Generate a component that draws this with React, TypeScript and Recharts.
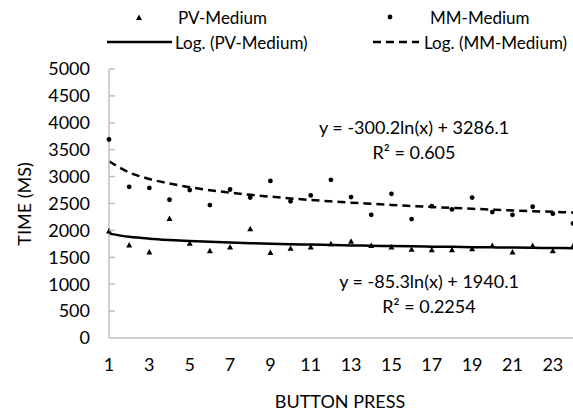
import {
  ComposedChart,
  Line,
  Scatter,
  XAxis,
  YAxis,
} from 'recharts'

const presses = [1, 2, 3, 4, 5, 6, 7, 8, 9, 10, 11, 12, 13, 14, 15, 16, 17, 18, 19, 20, 21, 22, 23, 24]
const pvMedium = [1990, 1730, 1600, 2220, 1760, 1620, 1690, 2030, 1590, 1670, 1690, 1750, 1800, 1720, 1690, 1650, 1640, 1640, 1660, 1720, 1600, 1720, 1620, 1710]
const mmMedium = [3690, 2810, 2790, 2570, 2750, 2470, 2760, 2610, 2920, 2540, 2650, 2940, 2620, 2290, 2680, 2210, 2450, 2390, 2610, 2340, 2290, 2440, 2310, 2130]
// log trendlines as drawn in the chart
const pvTrend = [1940, 1881, 1846, 1822, 1803, 1787, 1774, 1763, 1753, 1744, 1736, 1728, 1721, 1715, 1709, 1704, 1698, 1694, 1689, 1685, 1680, 1676, 1673, 1669]
const mmTrend = [3286, 3078, 2956, 2870, 2803, 2748, 2702, 2662, 2627, 2595, 2566, 2540, 2516, 2494, 2473, 2454, 2436, 2418, 2402, 2387, 2372, 2358, 2345, 2332]
const xTicks = [1, 3, 5, 7, 9, 11, 13, 15, 17, 19, 21, 23]
const yTicks = [0, 500, 1000, 1500, 2000, 2500, 3000, 3500, 4000, 4500, 5000]

const data = presses.map((x, i) => ({
  x,
  pv: pvMedium[i],
  mm: mmMedium[i],
  pvTrend: pvTrend[i],
  mmTrend: mmTrend[i],
}))

const FONT = 'Lato, "Open Sans", sans-serif'
const FS = 18
const AXIS_GRAY = '#BFBFBF'

const Triangle = (props: any) => {
  const { cx, cy } = props
  if (cx == null || cy == null) return null
  return <polygon points={`${cx},${cy - 3} ${cx - 3},${cy + 2.5} ${cx + 3},${cy + 2.5}`} fill="#000" />
}

const Dot = (props: any) => {
  const { cx, cy } = props
  if (cx == null || cy == null) return null
  return <circle cx={cx} cy={cy} r={2.4} fill="#000" />
}

const YTick = (props: any) => {
  const { x, y, payload } = props
  return (
    <g>
      {payload.value !== 0 && <line x1={x + 19} x2={x + 25} y1={y} y2={y} stroke={AXIS_GRAY} strokeWidth={1.5} />}
      <text x={x} y={y} dy="0.355em" textAnchor="end" fontFamily={FONT} fontSize={FS} fill="#000">
        {payload.value}
      </text>
    </g>
  )
}

const XTick = (props: any) => {
  const { x, y, payload } = props
  return (
    <text x={x} y={y} dy="0.71em" textAnchor="middle" fontFamily={FONT} fontSize={FS} fill="#000">
      {payload.value}
    </text>
  )
}

const textStyle = { fontFamily: FONT, fontSize: FS, fill: '#000' }
const legendText = { fontFamily: FONT, fontSize: 17, fill: '#000' }

export default function App() {
  return (
    <div style={{ position: 'absolute', left: 0, top: 0, width: 573, height: 412, background: '#fff' }}>
      <ComposedChart width={573} height={412} data={data} margin={{ top: 69, right: 0, bottom: 0, left: 0 }}>
        <XAxis
          dataKey="x"
          type="number"
          domain={[1, 24]}
          ticks={xTicks}
          tick={<XTick />}
          tickLine={false}
          tickSize={0}
          tickMargin={20}
          height={74}
          axisLine={{ stroke: AXIS_GRAY, strokeWidth: 1.5 }}
          interval={0}
        />
        <YAxis
          type="number"
          domain={[0, 5000]}
          ticks={yTicks}
          tick={<YTick />}
          tickLine={false}
          tickSize={0}
          tickMargin={19}
          width={109}
          axisLine={{ stroke: AXIS_GRAY, strokeWidth: 1.5 }}
          interval={0}
        />
        <Line type="monotone" dataKey="pvTrend" stroke="#000" strokeWidth={2.5} dot={false} activeDot={false} isAnimationActive={false} />
        <Line type="monotone" dataKey="mmTrend" stroke="#000" strokeWidth={2.5} strokeDasharray="8 5" dot={false} activeDot={false} isAnimationActive={false} />
        <Scatter dataKey="pv" shape={<Triangle />} isAnimationActive={false} />
        <Scatter dataKey="mm" shape={<Dot />} isAnimationActive={false} />
      </ComposedChart>
      <svg width={573} height={412} style={{ position: 'absolute', left: 0, top: 0, pointerEvents: 'none' }}>
        {/* legend */}
        <polygon points="139,14.5 136,20 142,20" fill="#000" />
        <text x={178} y={17} dominantBaseline="central" {...legendText}>PV-Medium</text>
        <circle cx={390} cy={17} r={2.4} fill="#000" />
        <text x={430} y={17} dominantBaseline="central" {...legendText}>MM-Medium</text>
        <line x1={107} x2={172} y1={42} y2={42} stroke="#000" strokeWidth={2.5} />
        <text x={175} y={42} dominantBaseline="central" {...legendText}>Log. (PV-Medium)</text>
        <line x1={373} x2={419} y1={42} y2={42} stroke="#000" strokeWidth={2.5} strokeDasharray="8 5" />
        <text x={424} y={42} dominantBaseline="central" {...legendText}>Log. (MM-Medium)</text>
        {/* trendline equations */}
        <text x={414} y={127} textAnchor="middle" dominantBaseline="central" {...textStyle}>y = -300.2ln(x) + 3286.1</text>
        <text x={414} y={152} textAnchor="middle" dominantBaseline="central" {...textStyle}>R² = 0.605</text>
        <text x={429} y={281} textAnchor="middle" dominantBaseline="central" {...textStyle}>y = -85.3ln(x) + 1940.1</text>
        <text x={429} y={306} textAnchor="middle" dominantBaseline="central" {...textStyle}>R² = 0.2254</text>
        {/* axis titles */}
        <text x={340} y={401} textAnchor="middle" dominantBaseline="central" {...textStyle}>BUTTON PRESS</text>
        <text x={24} y={204} textAnchor="middle" dominantBaseline="central" transform="rotate(-90 24 204)" {...textStyle}>TIME (MS)</text>
      </svg>
    </div>
  )
}
